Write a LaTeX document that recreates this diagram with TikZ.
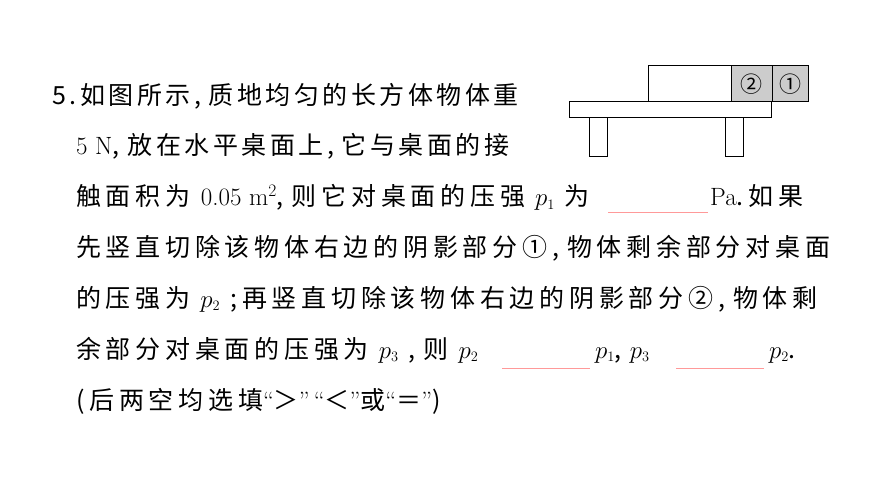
\documentclass[tikz,border=0pt]{standalone}
\usepackage{fontspec}
\newfontfamily\cjk[LetterSpace=14]{Noto Sans CJK SC}
\newfontfamily\cjkw[LetterSpace=19]{Noto Sans CJK SC}
\newfontfamily\cjkplain{Noto Sans CJK SC}
\newcommand{\cm}{,\hspace{8pt}}
\newcommand{\pp}[1]{\hspace*{10pt}{\fontsize{28}{28}\selectfont$p_{\scriptscriptstyle #1}$}\hspace*{10pt}}
\newcommand{\q}[1]{{\rmfamily #1}}
\begin{document}
\begin{tikzpicture}[x=1pt,y=-1pt,
 t/.style={anchor=base west,inner sep=0pt,font=\cjk\fontsize{25}{25}\selectfont},
 tw/.style={anchor=base west,inner sep=0pt,font=\cjkw\fontsize{25}{25}\selectfont},
 blank/.style={draw=pink!80!red,line width=0.8pt},
 thin/.style={draw=black,line width=1pt}]
\useasboundingbox (0,0) rectangle (870,489);
% figure
\draw[thin] (648,66) rectangle (731,102);
\draw[thin,fill=black!20] (731,66) rectangle (772,102) node[midway,font=\cjkplain\fontsize{22}{22}\selectfont] (c2) {②};
\draw[thin,fill=black!20] (772,66) rectangle (808,102) node[midway,font=\cjkplain\fontsize{22}{22}\selectfont] (c1) {①};
\draw[thin,fill=white] (569,102) rectangle (771,118);
\draw[thin] (589,118) rectangle (607,157);
\draw[thin] (725,118) rectangle (743,157);
% text
\node[t] (l1) at (52,105) {5.如图所示\cm 质地均匀的长方体物体重};
\node[t] (l2) at (76,155) {{\rmfamily 5 N}\cm 放在水平桌面上\cm 它与桌面的接};
\node[tw] (l3) at (76,206) {触面积为 {\rmfamily 0.05 m\textsuperscript{2}}\cm 则它对桌面的压强\pp1为};
\node[tw] (l3b) at (710,206) {{\rmfamily Pa}.如果};
\node[tw] (l4) at (76,256) {先竖直切除该物体右边的阴影部分①\cm 物体剩余部分对桌面};
\node[tw] (l5) at (76,307) {的压强为\pp2;\hspace{5pt}再竖直切除该物体右边的阴影部分②\cm 物体剩};
\node[tw] (l6) at (76,358) {余部分对桌面的压强为\pp3\cm 则\pp2};
\node[tw] (l6b) at (595,358) {{\fontsize{28}{28}\selectfont$p_{\scriptscriptstyle 1}$}\cm{\fontsize{28}{28}\selectfont$p_{\scriptscriptstyle 3}$}};
\node[tw] (l6c) at (769,358) {{\fontsize{28}{28}\selectfont$p_{\scriptscriptstyle 2}$}.};
\node[tw] (l7) at (76,409) {(后两空均选填\q{“}＞\q{”}\hspace*{4pt}\q{“}＜\q{”}或\q{“}＝\q{”})};
\coordinate (b1a) at (608,212); \coordinate (b1b) at (708,212);
\coordinate (b2a) at (502,368); \coordinate (b2b) at (590,368);
\coordinate (b3a) at (676,368); \coordinate (b3b) at (764,368);
\draw[blank] (b1a) -- (b1b);
\draw[blank] (b2a) -- (b2b);
\draw[blank] (b3a) -- (b3b);
\end{tikzpicture}
\end{document}
